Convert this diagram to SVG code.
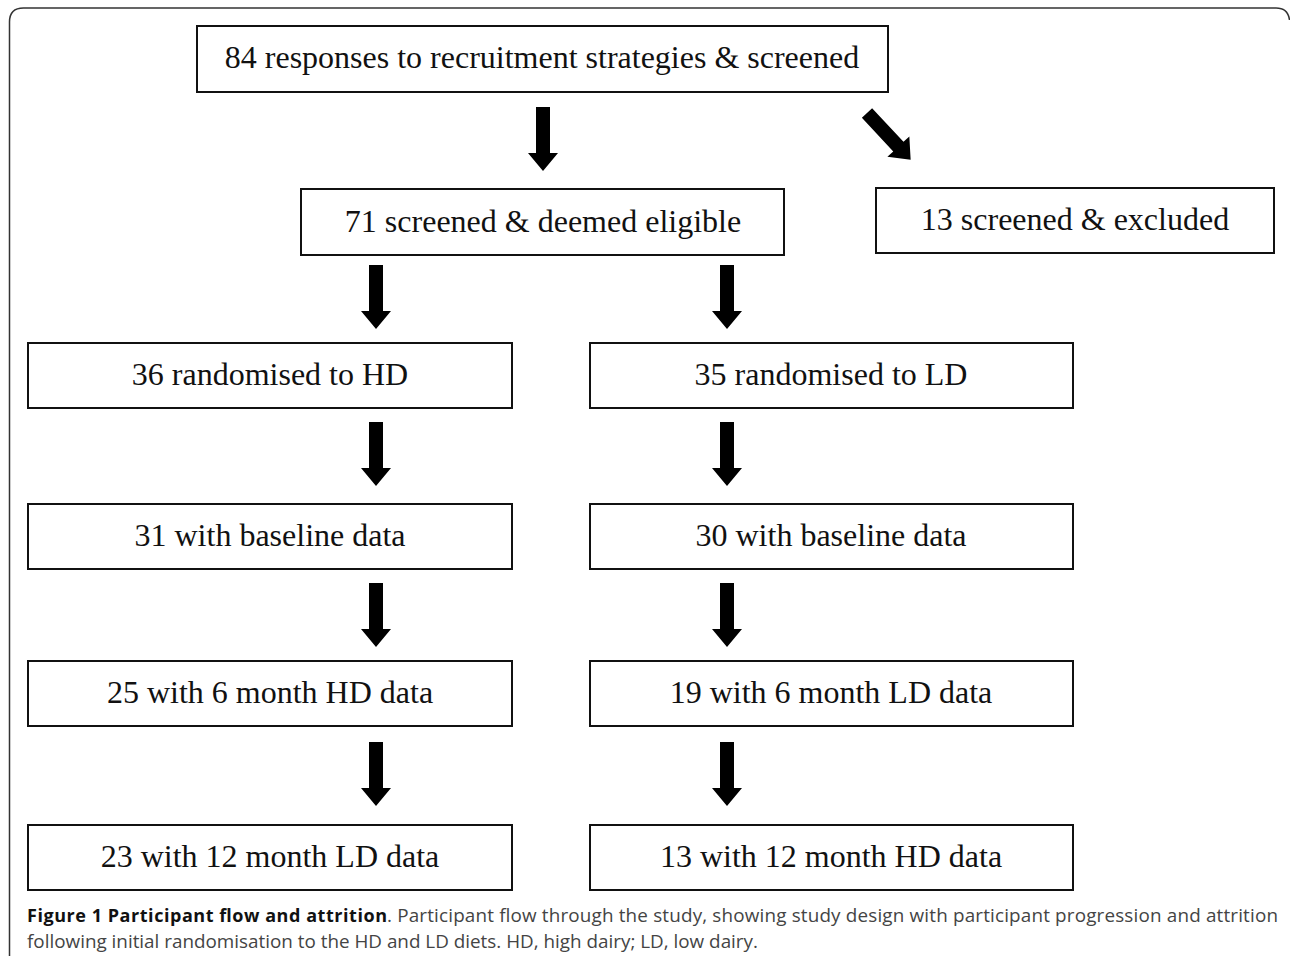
<svg xmlns="http://www.w3.org/2000/svg" width="1290" height="956" viewBox="0 0 1290 956">
<defs>
<style>
.box{fill:#fff;stroke:#111;stroke-width:2}
.lbl{font-family:"Liberation Serif","Times New Roman",serif;font-size:32px;fill:#111;text-anchor:middle}
.arr{fill:#000}
.cap{font-family:"Open Sans","Noto Sans",sans-serif;font-size:18.85px;fill:#444}
.capb{font-weight:bold;fill:#111;font-size:18px}
</style>
<path id="darrow" d="M -7 0 H 7 V 46 H 15 L 0 64 L -15 46 H -7 Z"/>
</defs>
<rect width="1290" height="956" fill="#fff"/>
<path id="frame" d="M 9.5 956 V 22 Q 9.5 8 23.5 8 H 1276 Q 1288 8 1289.5 20" fill="none" stroke="#333" stroke-width="1.5"/>

<g id="n-screened">
<rect class="box" x="197" y="26" width="691" height="66"/>
<text class="lbl" x="542" y="68">84 responses to recruitment strategies &amp; screened</text>
</g>
<g id="n-eligible">
<rect class="box" x="301" y="189" width="483" height="66"/>
<text class="lbl" x="543" y="232">71 screened &amp; deemed eligible</text>
</g>
<g id="n-excluded">
<rect class="box" x="876" y="188" width="398" height="65"/>
<text class="lbl" x="1075" y="230">13 screened &amp; excluded</text>
</g>
<g id="n-hd-rand">
<rect class="box" x="28" y="343" width="484" height="65"/>
<text class="lbl" x="270" y="385">36 randomised to HD</text>
</g>
<g id="n-ld-rand">
<rect class="box" x="590" y="343" width="483" height="65"/>
<text class="lbl" x="831" y="385">35 randomised to LD</text>
</g>
<g id="n-hd-base">
<rect class="box" x="28" y="504" width="484" height="65"/>
<text class="lbl" x="270" y="546">31 with baseline data</text>
</g>
<g id="n-ld-base">
<rect class="box" x="590" y="504" width="483" height="65"/>
<text class="lbl" x="831" y="546">30 with baseline data</text>
</g>
<g id="n-hd-6">
<rect class="box" x="28" y="661" width="484" height="65"/>
<text class="lbl" x="270" y="703">25 with 6 month HD data</text>
</g>
<g id="n-ld-6">
<rect class="box" x="590" y="661" width="483" height="65"/>
<text class="lbl" x="831" y="703">19 with 6 month LD data</text>
</g>
<g id="n-hd-12">
<rect class="box" x="28" y="825" width="484" height="65"/>
<text class="lbl" x="270" y="867">23 with 12 month LD data</text>
</g>
<g id="n-ld-12">
<rect class="box" x="590" y="825" width="483" height="65"/>
<text class="lbl" x="831" y="867">13 with 12 month HD data</text>
</g>

<g id="connectors" class="arr">
<use href="#darrow" x="543" y="107"/>
<use href="#darrow" transform="translate(867 113) rotate(-43)"/>
<use href="#darrow" x="376" y="265"/>
<use href="#darrow" x="727" y="265"/>
<use href="#darrow" x="376" y="422"/>
<use href="#darrow" x="727" y="422"/>
<use href="#darrow" x="376" y="583"/>
<use href="#darrow" x="727" y="583"/>
<use href="#darrow" x="376" y="742"/>
<use href="#darrow" x="727" y="742"/>
</g>

<g id="caption">
<text class="cap capb" x="27" y="922" textLength="360" lengthAdjust="spacing">Figure 1 Participant flow and attrition</text>
<text class="cap" x="387" y="922" textLength="891" lengthAdjust="spacing">. Participant flow through the study, showing study design with participant progression and attrition</text>
<text class="cap" x="27" y="948">following initial randomisation to the HD and LD diets. HD, high dairy; LD, low dairy.</text>
</g>
</svg>
